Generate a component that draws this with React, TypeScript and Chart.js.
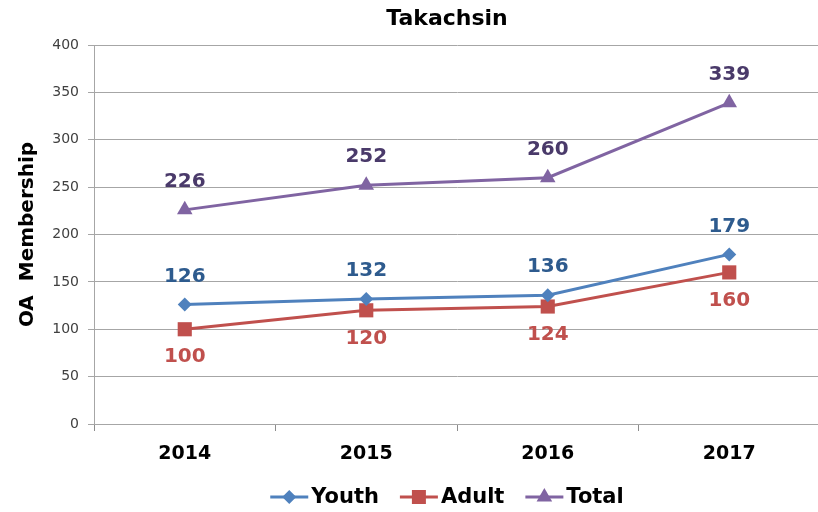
import React, { useEffect, useRef } from "react";
import { Chart, registerables } from "chart.js";

Chart.register(...registerables);

const categories = ["2014", "2015", "2016", "2017"];
const youth = [126, 132, 136, 179];
const adult = [100, 120, 124, 160];
const total = [226, 252, 260, 339];
const yTicks = { min: 0, max: 400, step: 50 };
const titleText = "Takachsin";
const yTitle = "OA  Membership";

const FONT = "'DejaVu Sans', Verdana, sans-serif";

type SeriesStyle = {
  label: string;
  data: number[];
  color: string;
  labelColor: string;
  pointStyle: string;
  radius: number;
  labelPos: "above" | "below";
};

const series: SeriesStyle[] = [
  { label: "Youth", data: youth, color: "#4F81BD", labelColor: "#2E5B8E", pointStyle: "rectRot", radius: 7, labelPos: "above" },
  { label: "Adult", data: adult, color: "#C0504D", labelColor: "#C0504D", pointStyle: "rect", radius: 10, labelPos: "below" },
  { label: "Total", data: total, color: "#8064A2", labelColor: "#4A3A6A", pointStyle: "triangle", radius: 9, labelPos: "above" },
];

function drawMarker(ctx: CanvasRenderingContext2D, style: string, x: number, y: number, color: string) {
  ctx.save();
  ctx.fillStyle = color;
  ctx.beginPath();
  if (style === "rectRot") {
    const r = 7;
    ctx.moveTo(x, y - r);
    ctx.lineTo(x + r, y);
    ctx.lineTo(x, y + r);
    ctx.lineTo(x - r, y);
  } else if (style === "rect") {
    const s = 7;
    ctx.rect(x - s, y - s, 2 * s, 2 * s);
  } else {
    const r = 9;
    ctx.moveTo(x, y - r);
    ctx.lineTo(x + r * 0.866, y + r * 0.5);
    ctx.lineTo(x - r * 0.866, y + r * 0.5);
  }
  ctx.closePath();
  ctx.fill();
  ctx.restore();
}

const overlayPlugin = {
  id: "overlay",
  afterDraw(chart: any) {
    const ctx: CanvasRenderingContext2D = chart.ctx;
    const area = chart.chartArea;
    const centerX = 447;

    // Title
    ctx.save();
    ctx.font = `bold 22px ${FONT}`;
    ctx.fillStyle = "#000000";
    ctx.textAlign = "center";
    ctx.textBaseline = "middle";
    ctx.fillText(titleText, centerX, 19);
    ctx.restore();

    // Y axis title
    ctx.save();
    ctx.translate(28, (area.top + area.bottom) / 2);
    ctx.rotate(-Math.PI / 2);
    ctx.font = `bold 20px ${FONT}`;
    ctx.fillStyle = "#000000";
    ctx.textAlign = "center";
    ctx.textBaseline = "middle";
    ctx.fillText(yTitle, 0, 0);
    ctx.restore();

    // Data labels
    chart.data.datasets.forEach((ds: any, i: number) => {
      const meta = chart.getDatasetMeta(i);
      const s = series[i];
      ctx.save();
      ctx.font = `bold 20px ${FONT}`;
      ctx.fillStyle = s.labelColor;
      ctx.textAlign = "center";
      ctx.textBaseline = "middle";
      meta.data.forEach((pt: any, j: number) => {
        const dy = s.labelPos === "above" ? -28 : 28;
        ctx.fillText(String(ds.data[j]), pt.x, pt.y + dy);
      });
      ctx.restore();
    });

    // Legend
    ctx.save();
    ctx.font = `bold 21px ${FONT}`;
    ctx.textBaseline = "middle";
    ctx.textAlign = "left";
    const lineLen = 38;
    const gap = 3;
    const itemGap = 21;
    const widths = series.map((s) => lineLen + gap + ctx.measureText(s.label).width);
    const totalW = widths.reduce((a, b) => a + b, 0) + itemGap * (series.length - 1);
    let x = centerX - totalW / 2;
    const y = 497;
    series.forEach((s, i) => {
      ctx.strokeStyle = s.color;
      ctx.lineWidth = 3;
      ctx.beginPath();
      ctx.moveTo(x, y);
      ctx.lineTo(x + lineLen, y);
      ctx.stroke();
      drawMarker(ctx, s.pointStyle, x + lineLen / 2, y, s.color);
      ctx.fillStyle = "#000000";
      ctx.fillText(s.label, x + lineLen + gap, y + 1);
      x += widths[i] + itemGap;
    });
    ctx.restore();
  },
};

export default function App() {
  const ref = useRef<HTMLCanvasElement | null>(null);

  useEffect(() => {
    if (!ref.current) return;
    const chart = new Chart(ref.current, {
      type: "line",
      data: {
        labels: categories,
        datasets: series.map((s) => ({
          label: s.label,
          data: s.data,
          borderColor: s.color,
          backgroundColor: s.color,
          borderWidth: 3,
          pointStyle: s.pointStyle as any,
          pointRadius: s.radius,
          pointHoverRadius: s.radius,
          pointBorderWidth: 0,
          pointBackgroundColor: s.color,
          tension: 0,
          fill: false,
        })),
      },
      options: {
        responsive: false,
        animation: false,
        layout: { padding: { left: 0, right: 5, top: 45, bottom: 0 } },
        plugins: {
          legend: { display: false },
          title: { display: false },
          tooltip: { enabled: false },
        },
        scales: {
          x: {
            type: "category",
            offset: true,
            afterFit: (s: any) => {
              s.height = 88;
            },
            grid: {
              offset: true,
              drawOnChartArea: false,
              drawTicks: true,
              tickLength: 7,
              color: "#8c8c8c",
            },
            border: { color: "#a6a6a6", width: 1 },
            ticks: {
              color: "#000000",
              font: { family: FONT, size: 19, weight: "bold" },
              padding: 12,
            },
          },
          y: {
            min: yTicks.min,
            max: yTicks.max,
            afterFit: (s: any) => {
              s.width = 94;
            },
            grid: {
              color: "#a6a6a6",
              lineWidth: 1,
              tickLength: 6,
            },
            border: { color: "#a6a6a6", width: 1 },
            ticks: {
              stepSize: yTicks.step,
              color: "#404040",
              font: { family: FONT, size: 14 },
              padding: 9,
            },
          },
        },
      },
      plugins: [overlayPlugin],
    });
    return () => chart.destroy();
  }, []);

  return (
    <div style={{ position: "absolute", left: 0, top: 0, width: 818, height: 512, overflow: "hidden", background: "#ffffff" }}>
      <canvas ref={ref} width={830} height={512} style={{ display: "block" }} />
    </div>
  );
}
